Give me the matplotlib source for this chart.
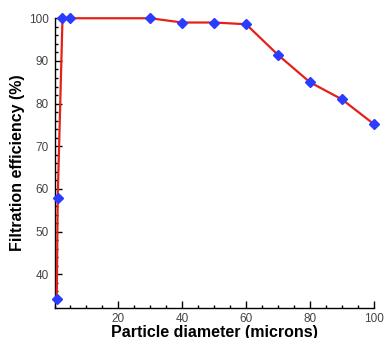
import matplotlib

matplotlib.use("Agg")
import matplotlib.pyplot as plt
from matplotlib.ticker import MultipleLocator

# particle diameter (microns) vs filtration efficiency (%)
diameter = [0.7, 1.0, 2.5, 5, 30, 40, 50, 60, 70, 80, 90, 100]
efficiency = [34.1, 57.8, 100, 100, 100, 99.0, 99.0, 98.6, 91.4, 85.0, 81.0, 75.2]
xticks = [20, 40, 60, 80, 100]
yticks = [40, 50, 60, 70, 80, 90, 100]

plt.rcParams["font.family"] = ["Liberation Sans", "DejaVu Sans"]

fig = plt.figure(figsize=(3.85, 3.38), dpi=100)
ax = fig.add_axes([0.1416, 0.090, 0.8294, 0.856])

ax.plot(diameter, efficiency, color="#e52019", lw=1.6, marker="D", ms=4.8,
        mfc="#2b3cff", mec="#2b3cff", clip_on=False, zorder=3)

ax.set_xlim(0, 100)
ax.set_ylim(32.2, 100)
ax.set_xticks(xticks)
ax.set_yticks(yticks)
ax.xaxis.set_minor_locator(MultipleLocator(5))
ax.yaxis.set_minor_locator(MultipleLocator(2))
ax.tick_params(which="both", direction="in", color="black", width=1.0)
ax.tick_params(which="major", length=5, labelsize=8.5, labelcolor="#444444",
               pad=4)
ax.tick_params(which="minor", length=2.5)

for s in ("top", "right"):
    ax.spines[s].set_visible(False)
for s in ("left", "bottom"):
    ax.spines[s].set_linewidth(1.0)

ax.set_xlabel("Particle diameter (microns)", fontsize=11.5, fontweight="bold",
              labelpad=0)
ax.set_ylabel("Filtration efficiency (%)", fontsize=11.5, fontweight="bold",
              labelpad=3)

fig.savefig("out.png", dpi=100)
